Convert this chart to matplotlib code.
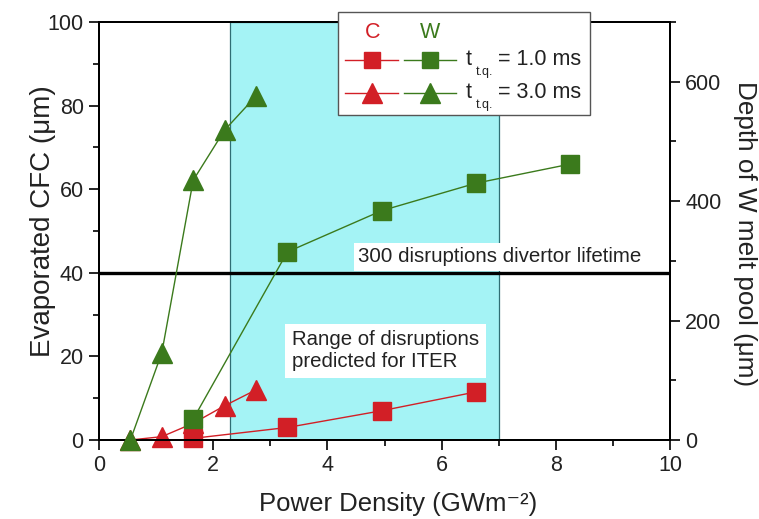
import matplotlib
matplotlib.use("Agg")
import matplotlib.pyplot as plt
from matplotlib.lines import Line2D
from matplotlib.patches import Rectangle
from matplotlib.ticker import MultipleLocator

plt.rcParams['font.family'] = ['Liberation Sans', 'DejaVu Sans']

# power density (GW m^-2) and values
c_1ms_x = [1.65, 3.3, 4.95, 6.6]
c_1ms_y = [0.4, 3.0, 7.0, 11.5]          # evaporated CFC, um
c_3ms_x = [0.55, 1.1, 1.65, 2.2, 2.75]
c_3ms_y = [0.0, 0.8, 4.0, 8.2, 12.0]
w_1ms_x = [1.65, 3.3, 4.95, 6.6, 8.25]
w_1ms_y = [35, 315, 384, 430, 462]        # W melt pool depth, um
w_3ms_x = [0.55, 1.1, 1.65, 2.2, 2.75]
w_3ms_y = [0, 146, 435, 519, 576]

iter_range = [2.3, 7.0]
lifetime_level = 40

red = '#d21f26'
green = '#3b7a1c'
txt = '#222222'

W, H = 759, 519
fig = plt.figure(figsize=(W / 100, H / 100), dpi=100)
ax = fig.add_axes([99 / W, 1 - 440 / H, (670 - 99) / W, (440 - 22) / H])
ax2 = ax.twinx()

ax.axvspan(iter_range[0], iter_range[1], facecolor='#a4f3f5', edgecolor='#2f6e74', lw=0.9, zorder=0)
ax.axhline(lifetime_level, color='black', lw=2.4, zorder=1)

ax.plot(c_1ms_x, c_1ms_y, '-s', color=red, mfc=red, mec=red, ms=13, lw=1, clip_on=False, zorder=3)
ax.plot(c_3ms_x, c_3ms_y, '-^', color=red, mfc=red, mec=red, ms=15, lw=1, clip_on=False, zorder=3)
ax2.plot(w_1ms_x, w_1ms_y, '-s', color=green, mfc=green, mec=green, ms=13, lw=1, clip_on=False, zorder=3)
ax2.plot(w_3ms_x, w_3ms_y, '-^', color=green, mfc=green, mec=green, ms=15, lw=1, clip_on=False, zorder=3)

ax.text(4.53, 43.8, '300 disruptions divertor lifetime', fontsize=14.8, color=txt, va='center', ha='left',
        bbox=dict(facecolor='white', edgecolor='none', pad=3), zorder=2)
ax.text(3.38, 21.3, 'Range of disruptions\npredicted for ITER', fontsize=14.7, color=txt, va='center',
        ha='left', linespacing=1.2, bbox=dict(facecolor='white', edgecolor='none', pad=5), zorder=2)

ax.set_xlim(0, 10)
ax.set_ylim(0, 100)
ax2.set_ylim(0, 700)
ax.xaxis.set_major_locator(MultipleLocator(2))
ax.xaxis.set_minor_locator(MultipleLocator(1))
ax.yaxis.set_major_locator(MultipleLocator(20))
ax.yaxis.set_minor_locator(MultipleLocator(10))
ax2.yaxis.set_major_locator(MultipleLocator(200))
ax2.yaxis.set_minor_locator(MultipleLocator(100))

for a in (ax, ax2):
    for s in a.spines.values():
        s.set_linewidth(1.4)
    a.tick_params(which='major', direction='out', length=7, width=1.2, labelsize=15.5,
                  labelcolor=txt, pad=4)
    a.tick_params(which='minor', direction='out', length=4, width=1.2)
ax.tick_params(axis='x', pad=4)

ax.set_xlabel('Power Density (GWm\u207b\u00b2)', fontsize=18.5, color=txt, va='center')
ax.xaxis.set_label_coords(0.524, -0.152)
ax.set_ylabel('Evaporated CFC (\u03bcm)', fontsize=20, color=txt, va='center', ha='center',
              rotation_mode='anchor')
ax.yaxis.set_label_coords(-0.098, 0.523)
ax2.set_ylabel('Depth of W melt pool (\u03bcm)', fontsize=18.8, color=txt, rotation=270,
               va='center', ha='center', rotation_mode='anchor')
ax2.yaxis.set_label_coords(1.132, 0.495)

# legend box drawn in figure pixels
def fx(px):
    return px / W

def fy(py):
    return 1 - py / H

fig.add_artist(Rectangle((fx(338), fy(115)), fx(590) - fx(338), fy(12) - fy(115),
                         transform=fig.transFigure, facecolor='white', edgecolor='#555555',
                         lw=1.0, zorder=10))
fig.text(fx(373), fy(32), 'C', color=red, fontsize=15.5, ha='center', va='center', zorder=11)
fig.text(fx(430), fy(32), 'W', color=green, fontsize=15.5, ha='center', va='center', zorder=11)
rows = [(60, 's', 12, '= 1.0 ms'), (93, '^', 14, '= 3.0 ms')]
for py, mk, size, label in rows:
    for x0, x1, col in [(345, 398, red), (404, 456, green)]:
        fig.add_artist(Line2D([fx(x0), fx(x1)], [fy(py), fy(py)], transform=fig.transFigure,
                              color=col, lw=1, zorder=11))
        fig.add_artist(Line2D([fx((x0 + x1) / 2)], [fy(py)], transform=fig.transFigure,
                              color=col, marker=mk, ms=size, lw=0, zorder=12))
    fig.text(fx(466), fy(py), 't', color=txt, fontsize=15.5, ha='left', va='center', zorder=12)
    fig.text(fx(476), fy(py + 12), 't.q.', color=txt, fontsize=9, ha='left', va='center', zorder=12)
    fig.text(fx(498), fy(py), label, color=txt, fontsize=15.5, ha='left', va='center', zorder=12)

fig.savefig('out.png', dpi=100)
